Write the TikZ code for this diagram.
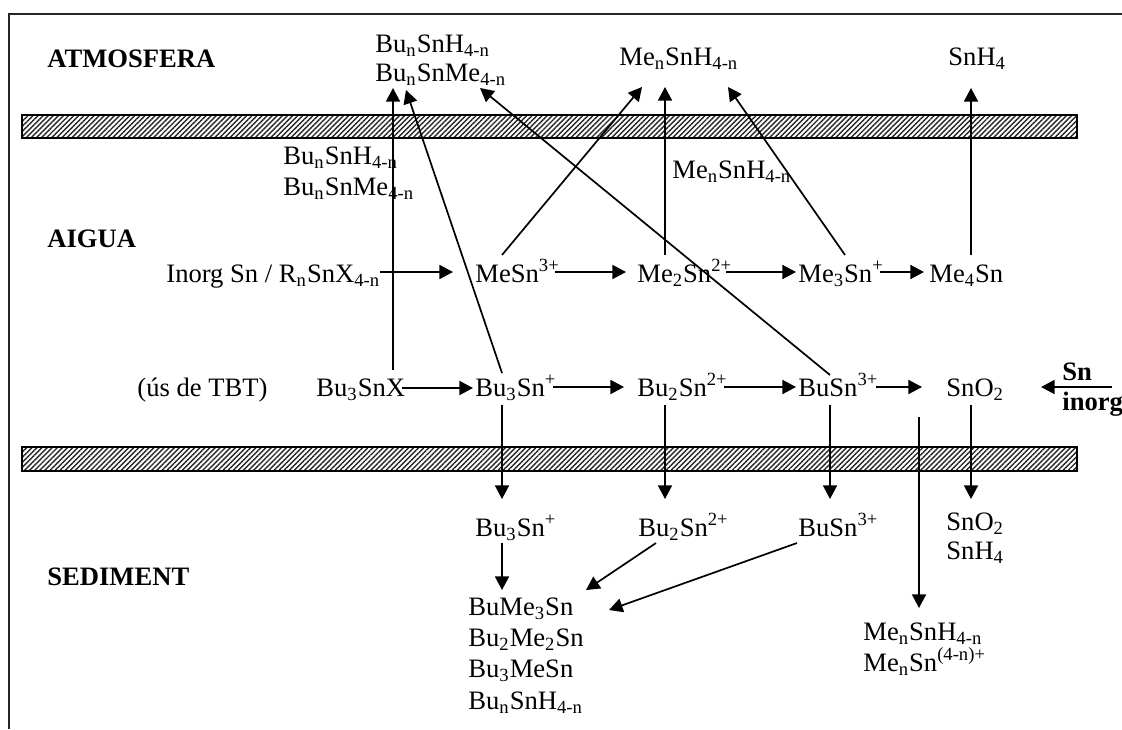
\documentclass[tikz,border=0pt]{standalone}
\usepackage{fontspec}
\setmainfont{Liberation Serif}
\usetikzlibrary{arrows.meta,patterns.meta,calc}
\newcommand{\lo}[1]{\textsubscript{#1}}
\newcommand{\hi}[1]{\textsuperscript{#1}}
\begin{document}
\begin{tikzpicture}[x=0.5pt,y=-0.5pt,
  sp/.style={inner sep=0pt, anchor=base west, font=\fontsize{13.3}{15}\selectfont},
  zone/.style={sp, font=\fontsize{13.3}{15}\selectfont\bfseries},
  arr/.style={line width=0.85pt, -{Triangle[length=6.8pt,width=7pt]}},
  bed/.style={draw, line width=0.8pt, pattern={Lines[angle=45,distance=1.8pt,line width=0.7pt]}, pattern color=black!85},
  frame/.style={line width=1.1pt, black!85}]
\useasboundingbox (0,0) rectangle (1122,729);

% frame and the two interfaces (air/water, water/sediment)
\draw[frame] (9,729) -- (9,14) -- (1122,14);
\draw[bed] (22,115) rectangle (1077,138);
\draw[bed] (22,447) rectangle (1077,471);

% compartments
\node[zone] (atm) at (47,67) {ATMOSFERA};
\node[zone] (aig) at (47,247) {AIGUA};
\node[zone] (sed) at (47,585) {SEDIMENT};

% atmosphere
\node[sp] (tb1) at (375,52) {Bu\lo{n}SnH\lo{4-n}};
\node[sp] (tb2) at (375,81) {Bu\lo{n}SnMe\lo{4-n}};
\node[sp] (tme) at (619,65) {Me\lo{n}SnH\lo{4-n}};
\node[sp] (tsh) at (948,65) {SnH\lo{4}};

% volatile species in water
\node[sp] (mb1) at (283,164) {Bu\lo{n}SnH\lo{4-n}};
\node[sp] (mb2) at (283,195) {Bu\lo{n}SnMe\lo{4-n}};
\node[sp] (mme) at (672,178) {Me\lo{n}SnH\lo{4-n}};

% methylation row
\node[sp] (inorg) at (166,282) {Inorg Sn / R\lo{n}SnX\lo{4-n}};
\node[sp] (mesn)  at (475,282) {MeSn\hi{3+}};
\node[sp] (me2sn) at (637,282) {Me\lo{2}Sn\hi{2+}};
\node[sp] (me3sn) at (798,282) {Me\lo{3}Sn\hi{+}};
\node[sp] (me4sn) at (929,282) {Me\lo{4}Sn};

% butyltin degradation row
\node[sp] (tbt)    at (137,396) {(ús de TBT)};
\node[sp] (bu3snx) at (316,396) {Bu\lo{3}SnX};
\node[sp] (bu3sn)  at (475,396) {Bu\lo{3}Sn\hi{+}};
\node[sp] (bu2sn)  at (637,396) {Bu\lo{2}Sn\hi{2+}};
\node[sp] (busn)   at (798,396) {BuSn\hi{3+}};
\node[sp] (sno2)   at (946,396) {SnO\lo{2}};
\node[zone] (snl)  at (1062,380) {Sn};
\node[zone] (inl)  at (1062,410) {inorg};

% sediment
\node[sp] (sbu3) at (475,536) {Bu\lo{3}Sn\hi{+}};
\node[sp] (sbu2) at (638,536) {Bu\lo{2}Sn\hi{2+}};
\node[sp] (sbu1) at (798,536) {BuSn\hi{3+}};
\node[sp] (ssno2) at (946,530) {SnO\lo{2}};
\node[sp] (ssnh4) at (946,559) {SnH\lo{4}};
\node[sp] (l1) at (468,615) {BuMe\lo{3}Sn};
\node[sp] (l2) at (468,646) {Bu\lo{2}Me\lo{2}Sn};
\node[sp] (l3) at (468,677) {Bu\lo{3}MeSn};
\node[sp] (l4) at (468,709) {Bu\lo{n}SnH\lo{4-n}};
\node[sp] (sm1) at (863,640) {Me\lo{n}SnH\lo{4-n}};
\node[sp] (sm2) at (863,671) {Me\lo{n}Sn\hi{(4-n)+}};

% horizontal transformations
\draw[arr] ($(inorg.base west)+(214,-10)$) -- ($(mesn.base west)+(-22,-10)$);
\draw[arr] ($(mesn.base west)+(80,-10)$) -- ($(me2sn.base west)+(-11,-10)$);
\draw[arr] ($(me2sn.base west)+(89,-10)$) -- ($(me3sn.base west)+(-2,-10)$);
\draw[arr] ($(me3sn.base west)+(82,-10)$) -- ($(me4sn.base west)+(-5,-10)$);
\draw[arr] ($(bu3snx.base west)+(86,-8)$) -- ($(bu3sn.base west)+(-2,-8)$);
\draw[arr] ($(bu3sn.base west)+(78,-9)$) -- ($(bu2sn.base west)+(-13,-9)$);
\draw[arr] ($(bu2sn.base west)+(87,-9)$) -- ($(busn.base west)+(-2,-9)$);
\draw[arr] ($(busn.base west)+(78,-9)$) -- ($(sno2.base west)+(-24,-9)$);
\draw[arr] ($(snl.base west)+(50,7)$) -- ($(sno2.base west)+(95,-9)$);

% volatilisation to the atmosphere
\draw[arr] ($(bu3snx.base west)+(77,-26)$) -- ($(tb2.base west)+(18,7)$);
\draw[arr] ($(bu3sn.base west)+(27,-23)$) -- ($(tb2.base west)+(31,9)$);
\draw[arr] ($(busn.base west)+(32,-21)$) -- ($(tb2.base west)+(105,7)$);
\draw[arr] ($(mesn.base west)+(27,-27)$) -- ($(tme.base west)+(23,22)$);
\draw[arr] ($(me2sn.base west)+(28,-27)$) -- ($(tme.base west)+(46,22)$);
\draw[arr] ($(me3sn.base west)+(47,-27)$) -- ($(tme.base west)+(109,22)$);
\draw[arr] ($(me4sn.base west)+(42,-27)$) -- ($(tsh.base west)+(23,23)$);

% settling to the sediment
\draw[arr] ($(bu3sn.base west)+(27,9)$) -- ($(sbu3.base west)+(27,-37)$);
\draw[arr] ($(bu2sn.base west)+(28,9)$) -- ($(sbu2.base west)+(27,-37)$);
\draw[arr] ($(busn.base west)+(32,9)$) -- ($(sbu1.base west)+(32,-37)$);
\draw[arr] ($(sno2.base west)+(25,9)$) -- ($(ssno2.base west)+(25,-31)$);
\draw[arr] ($(sno2.base west)+(-27,21)$) -- ($(sm1.base west)+(56,-32)$);

% transformations in the sediment
\draw[arr] ($(sbu3.base west)+(27,7)$) -- ($(l1.base west)+(34,-25)$);
\draw[arr] ($(sbu2.base west)+(18,7)$) -- ($(l1.base west)+(118,-25)$);
\draw[arr] ($(sbu1.base west)+(-1,7)$) -- ($(l1.base west)+(141,-5)$);
\end{tikzpicture}
\end{document}
